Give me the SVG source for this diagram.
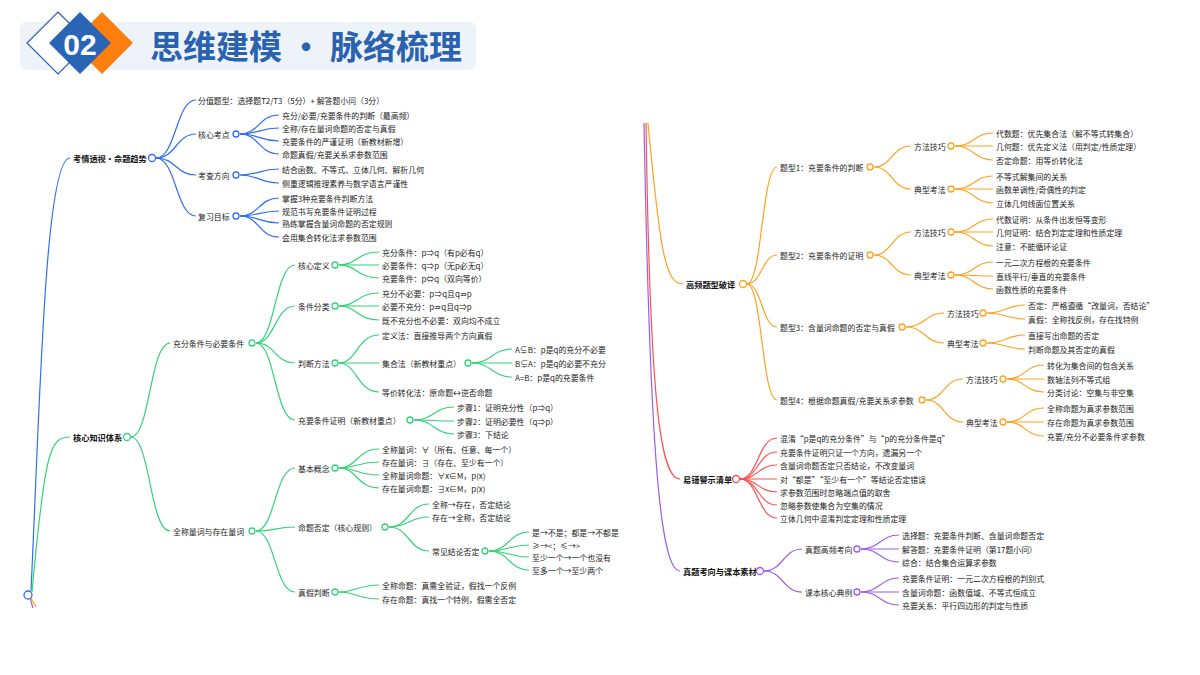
<svg xmlns="http://www.w3.org/2000/svg" width="1200" height="675" viewBox="0 0 1200 675">
<style>
text{font-family:"Noto Sans CJK SC","Noto Sans",sans-serif;font-size:7.9px;fill:#222;dominant-baseline:central}
.b{font-weight:bold;font-size:8.2px;fill:#111}
.cb path,.cg path,.co path,.cr path,.cp path{fill:none;stroke-width:1.2}
.cb path{stroke:#2f6ef2}.cg path{stroke:#34d27a}.co path{stroke:#ffa11f}.cr path{stroke:#ff5050}.cp path{stroke:#a05ce8}
circle{fill:#fff;stroke-width:1.3}
.nb circle{stroke:#2f6ef2}.ng circle{stroke:#34d27a}.no circle{stroke:#ffa11f}.nr circle{stroke:#ff5050}.np circle{stroke:#a05ce8}
</style>
<rect width="1200" height="675" fill="#fff"/>
<g id="title">
<rect x="20" y="22" width="456" height="48" rx="6" fill="#eef3f9"/>
<polygon points="58,12 89,43 58,74 27,43" fill="#fff" stroke="#2a5fb0" stroke-width="1.2"/>
<polygon points="102,12 133,43 102,74 71,43" fill="#ff7f0e"/>
<polygon points="80,12 111,43 80,74 49,43" fill="#2a64b4"/>
<text x="80" y="44" text-anchor="middle" style="font-family:'Liberation Sans',sans-serif;font-size:30px;font-weight:bold;fill:#fff">02</text>
<text x="150" y="45" style="font-size:33px;font-weight:bold;fill:#2a62b0">思维建模 · 脉络梳理</text>
</g>
<g id="connectors">
<g class="cb">
<path d="M31 591 C40 400 45 158 70 158"/>
<path d="M156 158 C176 158 176 100 196 100"/><path d="M156 158 C176 158 176 134 196 134"/><path d="M156 158 C176 158 176 175 196 175"/><path d="M156 158 C176 158 176 216 196 216"/>
<path d="M240 134 C259 134 259 115 279 115"/><path d="M240 134 C259 134 259 128 279 128"/><path d="M240 134 C259 134 259 141 279 141"/><path d="M240 134 C259 134 259 154 279 154"/>
<path d="M240 175 C259 175 259 169 279 169"/><path d="M240 175 C259 175 259 183 279 183"/>
<path d="M240 216 C259 216 259 198 279 198"/><path d="M240 216 C259 216 259 211 279 211"/><path d="M240 216 C259 216 259 223 279 223"/><path d="M240 216 C259 216 259 237 279 237"/>
</g>
<g class="cg">
<path d="M32 592 C45 450 50 437 70 437"/>
<path d="M131 437 C150 437 150 343 170 343"/><path d="M131 437 C150 437 150 531 170 531"/>
<path d="M256 343 C275 343 275 265 295 265"/><path d="M256 343 C275 343 275 306 295 306"/><path d="M256 343 C275 343 275 363 295 363"/><path d="M256 343 C275 343 275 420 295 420"/>
<path d="M256 531 C275 531 275 468 295 468"/><path d="M256 531 C275 531 275 527 295 527"/><path d="M256 531 C275 531 275 592 295 592"/>
<path d="M339 265 C357 265 357 252 379 252"/><path d="M339 265 C357 265 357 265 379 265"/><path d="M339 265 C357 265 357 278 379 278"/>
<path d="M339 306 C357 306 357 293 379 293"/><path d="M339 306 C357 306 357 306 379 306"/><path d="M339 306 C357 306 357 320 379 320"/>
<path d="M339 363 C357 363 357 335 379 335"/><path d="M339 363 C357 363 357 363 379 363"/><path d="M339 363 C357 363 357 392 379 392"/>
<path d="M472 363 C492 363 492 349 512 349"/><path d="M472 363 C492 363 492 363 512 363"/><path d="M472 363 C492 363 492 377 512 377"/>
<path d="M414 420 C434 420 434 407 454 407"/><path d="M414 420 C434 420 434 421 454 421"/><path d="M414 420 C434 420 434 434 454 434"/>
<path d="M339 468 C357 468 357 449 379 449"/><path d="M339 468 C357 468 357 462 379 462"/><path d="M339 468 C357 468 357 475 379 475"/><path d="M339 468 C357 468 357 488 379 488"/>
<path d="M389 527 C409 527 409 504 429 504"/><path d="M389 527 C409 527 409 517 429 517"/><path d="M389 527 C409 527 409 551 429 551"/>
<path d="M489 551 C509 551 509 532 529 532"/><path d="M489 551 C509 551 509 545 529 545"/><path d="M489 551 C509 551 509 557 529 557"/><path d="M489 551 C509 551 509 570 529 570"/>
<path d="M339 592 C357 592 357 585 379 585"/><path d="M339 592 C357 592 357 599 379 599"/>
</g>
<g class="co">
<path d="M31 598 L36 607"/>
<path d="M648 123 C660 250 665 284 683 284"/>
<path d="M747 284 C762 284 762 167 777 167"/><path d="M747 284 C762 284 762 255 777 255"/><path d="M747 284 C762 284 762 327 777 327"/><path d="M747 284 C762 284 762 400 777 400"/>
<path d="M874 167 C892 167 892 146 911 146"/><path d="M874 167 C892 167 892 189 911 189"/>
<path d="M874 255 C892 255 892 232 911 232"/><path d="M874 255 C892 255 892 275 911 275"/>
<path d="M955 146 C974 146 974 133 993 133"/><path d="M955 146 C974 146 974 146 993 146"/><path d="M955 146 C974 146 974 160 993 160"/>
<path d="M955 189 C974 189 974 176 993 176"/><path d="M955 189 C974 189 974 189 993 189"/><path d="M955 189 C974 189 974 203 993 203"/>
<path d="M955 232 C974 232 974 219 993 219"/><path d="M955 232 C974 232 974 232 993 232"/><path d="M955 232 C974 232 974 246 993 246"/>
<path d="M955 275 C974 275 974 262 993 262"/><path d="M955 275 C974 275 974 276 993 276"/><path d="M955 275 C974 275 974 289 993 289"/>
<path d="M906 327 C925 327 925 313 944 313"/><path d="M906 327 C925 327 925 343 944 343"/>
<path d="M987 313 C1006 313 1006 305 1025 305"/><path d="M987 313 C1006 313 1006 319 1025 319"/>
<path d="M987 343 C1006 343 1006 335 1025 335"/><path d="M987 343 C1006 343 1006 349 1025 349"/>
<path d="M926 400 C944 400 944 379 963 379"/><path d="M926 400 C944 400 944 422 963 422"/>
<path d="M1007 379 C1025 379 1025 365 1044 365"/><path d="M1007 379 C1025 379 1025 379 1044 379"/><path d="M1007 379 C1025 379 1025 392 1044 392"/>
<path d="M1007 422 C1025 422 1025 408 1044 408"/><path d="M1007 422 C1025 422 1025 422 1044 422"/><path d="M1007 422 C1025 422 1025 436 1044 436"/>
</g>
<g class="cr">
<path d="M646 123 C650 400 660 479 680 479"/>
<path d="M740 479 C758 479 758 438 777 438"/><path d="M740 479 C758 479 758 452 777 452"/><path d="M740 479 C758 479 758 465 777 465"/><path d="M740 479 C758 479 758 479 777 479"/><path d="M740 479 C758 479 758 492 777 492"/><path d="M740 479 C758 479 758 505 777 505"/><path d="M740 479 C758 479 758 518 777 518"/>
</g>
<g class="cp">
<path d="M30 598 L33 608"/>
<path d="M644 123 C650 450 660 571 680 571"/>
<path d="M764 571 C783 571 783 549 802 549"/><path d="M764 571 C783 571 783 592 802 592"/>
<path d="M861 549 C880 549 880 535 899 535"/><path d="M861 549 C880 549 880 549 899 549"/><path d="M861 549 C880 549 880 562 899 562"/>
<path d="M861 592 C880 592 880 578 899 578"/><path d="M861 592 C880 592 880 592 899 592"/><path d="M861 592 C880 592 880 605 899 605"/>
</g>
</g>
<g id="root" class="nb"><circle cx="28" cy="595" r="4"/></g>
<g id="n1" class="nb">
<text class="b" x="73" y="158">考情透视·命题趋势</text><circle cx="152" cy="158" r="3.5"/>
<text x="198" y="100">分值题型：选择题T2/T3（5分）+ 解答题小问（3分）</text>
<text x="198" y="134">核心考点</text><circle cx="236" cy="134" r="3"/>
<text x="282" y="115">充分/必要/充要条件的判断（最高频）</text>
<text x="282" y="128">全称/存在量词命题的否定与真假</text>
<text x="282" y="141">充要条件的严谨证明（新教材新增）</text>
<text x="282" y="154">命题真假/充要关系求参数范围</text>
<text x="198" y="175">考查方向</text><circle cx="236" cy="175" r="3"/>
<text x="282" y="169">结合函数、不等式、立体几何、解析几何</text>
<text x="282" y="183">侧重逻辑推理素养与数学语言严谨性</text>
<text x="198" y="216">复习目标</text><circle cx="236" cy="216" r="3"/>
<text x="282" y="198">掌握3种充要条件判断方法</text>
<text x="282" y="211">规范书写充要条件证明过程</text>
<text x="282" y="223">熟练掌握含量词命题的否定规则</text>
<text x="282" y="237">会用集合转化法求参数范围</text>
</g>
<g id="n2" class="ng">
<text class="b" x="73" y="437">核心知识体系</text><circle cx="127" cy="437" r="3.5"/>
<text x="173" y="343">充分条件与必要条件</text><circle cx="252" cy="343" r="3"/>
<text x="298" y="265">核心定义</text><circle cx="335" cy="265" r="3"/>
<text x="382" y="252">充分条件：p⇒q（有p必有q）</text>
<text x="382" y="265">必要条件：q⇒p（无p必无q）</text>
<text x="382" y="278">充要条件：p⇔q（双向等价）</text>
<text x="298" y="306">条件分类</text><circle cx="335" cy="306" r="3"/>
<text x="382" y="293">充分不必要：p⇒q且q⇏p</text>
<text x="382" y="306">必要不充分：p⇏q且q⇒p</text>
<text x="382" y="320">既不充分也不必要：双向均不成立</text>
<text x="298" y="363">判断方法</text><circle cx="335" cy="363" r="3"/>
<text x="382" y="335">定义法：直接推导两个方向真假</text>
<text x="382" y="363">集合法（新教材重点）</text><circle cx="468" cy="363" r="3"/>
<text x="515" y="349">A⊊B：p是q的充分不必要</text>
<text x="515" y="363">B⊊A：p是q的必要不充分</text>
<text x="515" y="377">A=B：p是q的充要条件</text>
<text x="382" y="392">等价转化法：原命题↔逆否命题</text>
<text x="298" y="420">充要条件证明（新教材重点）</text><circle cx="410" cy="420" r="3"/>
<text x="457" y="407">步骤1：证明充分性（p⇒q）</text>
<text x="457" y="421">步骤2：证明必要性（q⇒p）</text>
<text x="457" y="434">步骤3：下结论</text>
<text x="173" y="531">全称量词与存在量词</text><circle cx="252" cy="531" r="3"/>
<text x="298" y="468">基本概念</text><circle cx="335" cy="468" r="3"/>
<text x="382" y="449">全称量词：∀（所有、任意、每一个）</text>
<text x="382" y="462">存在量词：∃（存在、至少有一个）</text>
<text x="382" y="475">全称量词命题：∀x∈M，p(x)</text>
<text x="382" y="488">存在量词命题：∃x∈M，p(x)</text>
<text x="298" y="527">命题否定（核心规则）</text><circle cx="385" cy="527" r="3"/>
<text x="432" y="504">全称→存在，否定结论</text>
<text x="432" y="517">存在→全称，否定结论</text>
<text x="432" y="551">常见结论否定</text><circle cx="485" cy="551" r="3"/>
<text x="532" y="532">是→不是；都是→不都是</text>
<text x="532" y="545">≥→&lt;；≤→&gt;</text>
<text x="532" y="557">至少一个→一个也没有</text>
<text x="532" y="570">至多一个→至少两个</text>
<text x="298" y="592">真假判断</text><circle cx="335" cy="592" r="3"/>
<text x="382" y="585">全称命题：真需全验证，假找一个反例</text>
<text x="382" y="599">存在命题：真找一个特例，假需全否定</text>
</g>
<g id="n3" class="no">
<text class="b" x="686" y="284">高频题型破译</text><circle cx="743" cy="284" r="3.5"/>
<text x="780" y="167">题型1：充要条件的判断</text><circle cx="870" cy="167" r="3"/>
<text x="914" y="146">方法技巧</text><circle cx="951" cy="146" r="3"/>
<text x="996" y="133">代数题：优先集合法（解不等式转集合）</text>
<text x="996" y="146">几何题：优先定义法（用判定/性质定理）</text>
<text x="996" y="160">否定命题：用等价转化法</text>
<text x="914" y="189">典型考法</text><circle cx="951" cy="189" r="3"/>
<text x="996" y="176">不等式解集间的关系</text>
<text x="996" y="189">函数单调性/奇偶性的判定</text>
<text x="996" y="203">立体几何线面位置关系</text>
<text x="780" y="255">题型2：充要条件的证明</text><circle cx="870" cy="255" r="3"/>
<text x="914" y="232">方法技巧</text><circle cx="951" cy="232" r="3"/>
<text x="996" y="219">代数证明：从条件出发恒等变形</text>
<text x="996" y="232">几何证明：结合判定定理和性质定理</text>
<text x="996" y="246">注意：不能循环论证</text>
<text x="914" y="275">典型考法</text><circle cx="951" cy="275" r="3"/>
<text x="996" y="262">一元二次方程根的充要条件</text>
<text x="996" y="276">直线平行/垂直的充要条件</text>
<text x="996" y="289">函数性质的充要条件</text>
<text x="780" y="327">题型3：含量词命题的否定与真假</text><circle cx="902" cy="327" r="3"/>
<text x="947" y="313">方法技巧</text><circle cx="983" cy="313" r="3"/>
<text x="1028" y="305">否定：严格遵循“改量词，否结论”</text>
<text x="1028" y="319">真假：全称找反例，存在找特例</text>
<text x="947" y="343">典型考法</text><circle cx="983" cy="343" r="3"/>
<text x="1028" y="335">直接写出命题的否定</text>
<text x="1028" y="349">判断命题及其否定的真假</text>
<text x="780" y="400">题型4：根据命题真假/充要关系求参数</text><circle cx="922" cy="400" r="3"/>
<text x="966" y="379">方法技巧</text><circle cx="1003" cy="379" r="3"/>
<text x="1047" y="365">转化为集合间的包含关系</text>
<text x="1047" y="379">数轴法列不等式组</text>
<text x="1047" y="392">分类讨论：空集与非空集</text>
<text x="966" y="422">典型考法</text><circle cx="1003" cy="422" r="3"/>
<text x="1047" y="408">全称命题为真求参数范围</text>
<text x="1047" y="422">存在命题为真求参数范围</text>
<text x="1047" y="436">充要/充分不必要条件求参数</text>
</g>
<g id="n4" class="nr">
<text class="b" x="683" y="479">易错警示清单</text><circle cx="736" cy="479" r="3.5"/>
<text x="780" y="438">混淆“p是q的充分条件”与“p的充分条件是q”</text>
<text x="780" y="452">充要条件证明只证一个方向，遗漏另一个</text>
<text x="780" y="465">含量词命题否定只否结论，不改变量词</text>
<text x="780" y="479">对“都是”“至少有一个”等结论否定错误</text>
<text x="780" y="492">求参数范围时忽略端点值的取舍</text>
<text x="780" y="505">忽略参数使集合为空集的情况</text>
<text x="780" y="518">立体几何中混淆判定定理和性质定理</text>
</g>
<g id="n5" class="np">
<text class="b" x="683" y="571">真题考向与课本素材</text><circle cx="760" cy="571" r="3.5"/>
<text x="805" y="549">真题高频考向</text><circle cx="857" cy="549" r="3"/>
<text x="902" y="535">选择题：充要条件判断、含量词命题否定</text>
<text x="902" y="549">解答题：充要条件证明（第17题小问）</text>
<text x="902" y="562">综合：结合集合运算求参数</text>
<text x="805" y="592">课本核心典例</text><circle cx="857" cy="592" r="3"/>
<text x="902" y="578">充要条件证明：一元二次方程根的判别式</text>
<text x="902" y="592">含量词命题：函数值域、不等式恒成立</text>
<text x="902" y="605">充要关系：平行四边形的判定与性质</text>
</g>
</svg>
